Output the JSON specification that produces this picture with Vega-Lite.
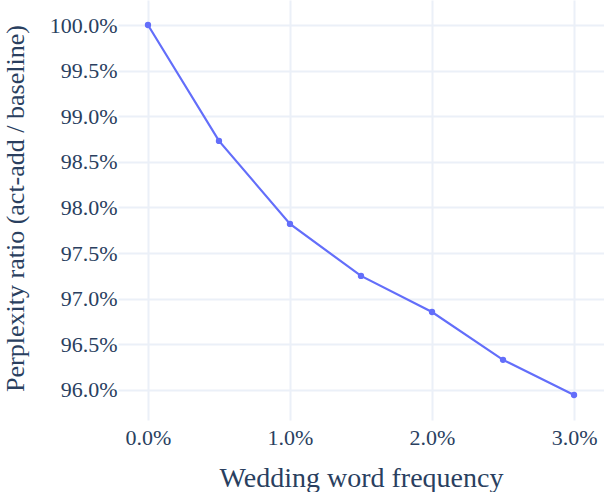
{
  "$schema": "https://vega.github.io/schema/vega-lite/v6.json",
  "width": 486,
  "height": 420,
  "autosize": "none",
  "padding": {"left": 118, "top": 0, "right": 0, "bottom": 72},
  "background": "white",
  "config": {
    "font": "Liberation Serif, Times New Roman, serif",
    "view": {"stroke": null},
    "axis": {
      "domain": false,
      "ticks": false,
      "grid": true,
      "gridColor": "#ebf0f8",
      "gridWidth": 2,
      "labelFont": "Liberation Serif, Times New Roman, serif",
      "labelFontSize": 22,
      "labelColor": "#2a3f5f",
      "titleFont": "Liberation Serif, Times New Roman, serif",
      "titleFontSize": 28,
      "titleFontWeight": "normal",
      "titleColor": "#2a3f5f"
    }
  },
  "data": {
    "values": [
      {"freq": 0.0, "ratio": 1.0},
      {"freq": 0.005, "ratio": 0.9873},
      {"freq": 0.01, "ratio": 0.9782},
      {"freq": 0.015, "ratio": 0.9725},
      {"freq": 0.02, "ratio": 0.96855},
      {"freq": 0.025, "ratio": 0.9633},
      {"freq": 0.03, "ratio": 0.95945}
    ]
  },
  "layer": [
    {
      "mark": {"type": "line", "color": "#636efa", "strokeWidth": 2.2},
      "encoding": {
        "x": {
          "field": "freq", "type": "quantitative",
          "scale": {"domain": [-0.00211, 0.03211], "nice": false, "zero": false},
          "axis": {"values": [0, 0.01, 0.02, 0.03], "format": ".1%", "labelPadding": 7, "title": "Wedding word frequency", "titleY": 58, "titleBaseline": "middle"}
        },
        "y": {
          "field": "ratio", "type": "quantitative",
          "scale": {"domain": [0.95671, 1.00274], "nice": false, "zero": false},
          "axis": {"values": [0.96, 0.965, 0.97, 0.975, 0.98, 0.985, 0.99, 0.995, 1.0], "format": ".1%", "labelPadding": 1, "title": "Perplexity ratio (act-add / baseline)", "titleX": -95, "titleY": 208, "titleFontSize": 26, "titleAngle": -90, "titleBaseline": "alphabetic", "titleAlign": "center"}
        }
      }
    },
    {
      "mark": {"type": "point", "filled": true, "color": "#636efa", "size": 40, "opacity": 1},
      "encoding": {
        "x": {"field": "freq", "type": "quantitative"},
        "y": {"field": "ratio", "type": "quantitative"}
      }
    }
  ]
}
